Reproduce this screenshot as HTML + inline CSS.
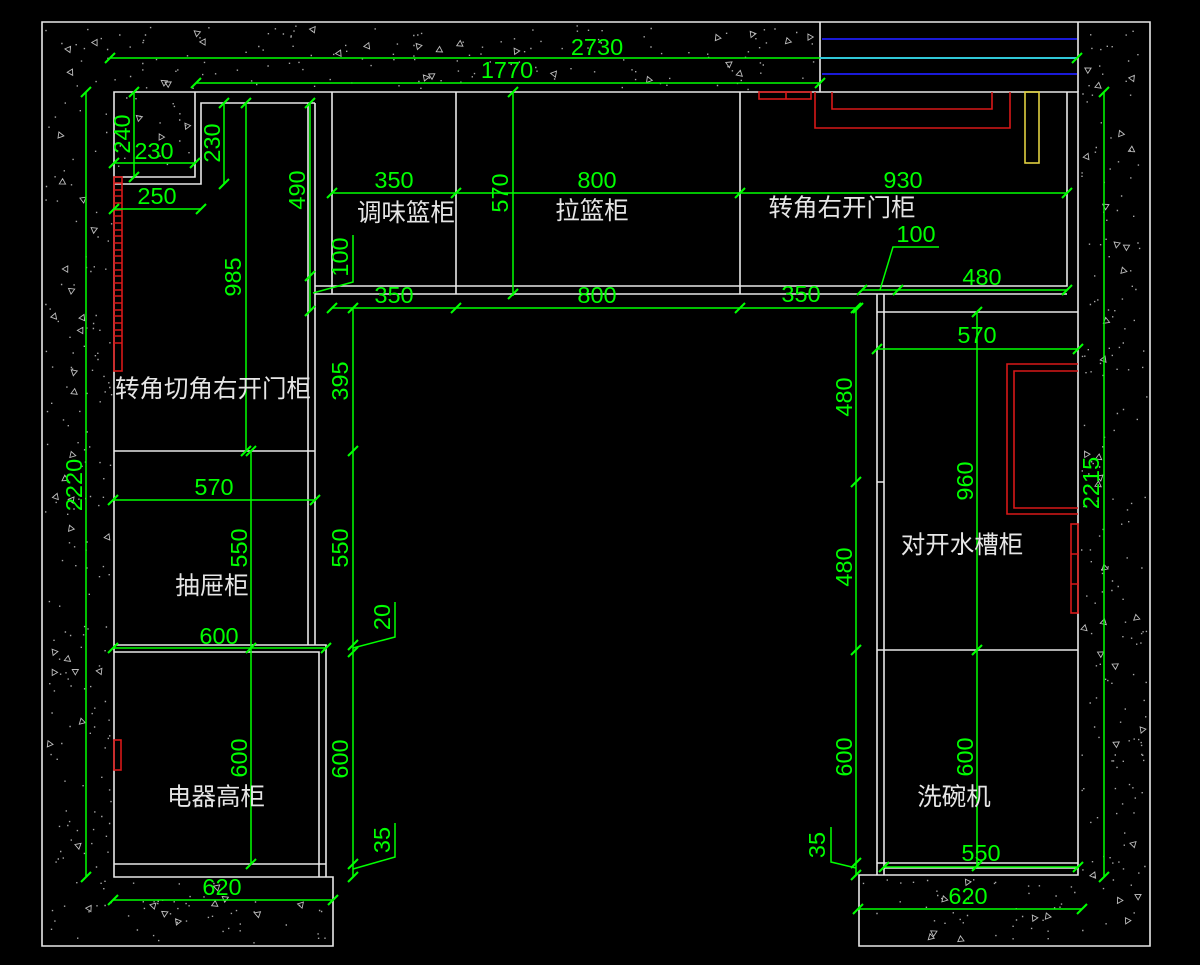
<!DOCTYPE html>
<html><head><meta charset="utf-8"><style>
html,body{margin:0;padding:0;background:#000;}
svg{display:block;}
.g{fill:#00ff00;font-family:"Liberation Sans",sans-serif;font-size:23.5px;text-anchor:middle;}
.w{fill:#e6e6e6;font-family:"Liberation Sans","Noto Sans CJK SC",sans-serif;font-size:24.5px;text-anchor:middle;}
</style></head><body>
<svg width="1200" height="965" viewBox="0 0 1200 965" xmlns="http://www.w3.org/2000/svg">
<defs><path id="t" d="M-5 5L5 -5" stroke="#00ff00" stroke-width="2"/></defs>
<rect width="1200" height="965" fill="#000"/>
<g id="hatch"></g>

<!-- window -->
<g fill="none" stroke-width="2">
<path d="M822 39H1077M822 74H1077" stroke="#1a1ad8"/>
</g>

<!-- walls & cabinets -->
<g fill="none" stroke="#e8e8e8" stroke-width="1.6">
<path d="M42 946V22H1150V946H859V875H1078V92H114V877H333V946Z"/>
<path d="M820 22V92M1078 22V92"/>
<path d="M114 177H195V92M114 184H201V103H315"/>
<path d="M308 103V645M315 103V645M114 451H315"/>
<path d="M315 286H1067V92M315 294H1067M332 92V294M456 92V294M740 92V294"/>
<path d="M877 294V875M884 294V875M877 312H1078M877 650H1078M877 863H1078M884 868H1078M877 482H884"/>
<path d="M114 645H326V877M114 652H319V877M114 864H326"/>
</g>

<!-- red / yellow fixtures -->
<g fill="none" stroke="#d81818" stroke-width="1.6">
<rect x="114" y="177" width="8" height="194"/>
<path d="M114 183H122M114 190H122M114 196H122M114 203H122M114 210H122M114 216H122M114 223H122M114 230H122M114 236H122M114 243H122M114 250H122M114 256H122M114 263H122M114 270H122M114 276H122M114 283H122M114 290H122M114 296H122M114 303H122M114 310H122M114 316H122M114 323H122M114 330H122M114 336H122M114 343H122"/>
<rect x="114" y="740" width="7" height="30"/>
<rect x="759" y="92" width="52" height="7"/>
<path d="M786 92V99"/>
<path d="M815 92V128H1010V92M832 92V109H992V92"/>
<path d="M1078 364H1007V514H1078M1078 371H1014V508H1078"/>
<rect x="1071" y="524" width="7" height="89"/>
<path d="M1071 554H1078M1071 584H1078"/>
</g>
<rect x="1025" y="92" width="14" height="71" fill="none" stroke="#e0d040" stroke-width="1.6"/>

<!-- green dimension lines -->
<g fill="none" stroke="#00ff00" stroke-width="1.5">
<path d="M110 58H1077M196 83H820M114 163H195M114 209H201M332 193H1067M332 308H858M862 290H1067M113 500H315M113 648H326M113 900H333M877 349H1078M884 867H1078M858 909H1082"/>
<path d="M86 92V877M134 92V177M224 103V184M310 103V311M246 103V451M513 92V296M353 308V877M251 451V864M856 308V875M977 312V867M1104 92V877"/>
<path d="M353 235V282L313 293M395 602V637L353 648M395 823V857L353 869M831 827V862L856 868M939 247H893L880 290"/>
</g>
<path d="M820 58H1077" stroke="#30c8d8" stroke-width="2"/>

<!-- ticks -->
<g>
<use href="#t" x="110" y="58"/><use href="#t" x="1077" y="58"/>
<use href="#t" x="196" y="83"/><use href="#t" x="820" y="83"/>
<use href="#t" x="114" y="163"/><use href="#t" x="195" y="163"/>
<use href="#t" x="114" y="209"/><use href="#t" x="201" y="209"/>
<use href="#t" x="332" y="193"/><use href="#t" x="456" y="193"/><use href="#t" x="740" y="193"/><use href="#t" x="1067" y="193"/>
<use href="#t" x="332" y="308"/><use href="#t" x="456" y="308"/><use href="#t" x="740" y="308"/><use href="#t" x="858" y="308"/>
<use href="#t" x="862" y="290"/><use href="#t" x="898" y="290"/><use href="#t" x="1067" y="290"/>
<use href="#t" x="113" y="500"/><use href="#t" x="315" y="500"/>
<use href="#t" x="113" y="648"/><use href="#t" x="326" y="648"/>
<use href="#t" x="113" y="900"/><use href="#t" x="333" y="900"/>
<use href="#t" x="877" y="349"/><use href="#t" x="1078" y="349"/>
<use href="#t" x="884" y="867"/><use href="#t" x="1078" y="867"/>
<use href="#t" x="858" y="909"/><use href="#t" x="1082" y="909"/>
<use href="#t" x="86" y="92"/><use href="#t" x="86" y="877"/>
<use href="#t" x="134" y="92"/><use href="#t" x="134" y="177"/>
<use href="#t" x="224" y="103"/><use href="#t" x="224" y="184"/>
<use href="#t" x="310" y="103"/><use href="#t" x="310" y="276"/><use href="#t" x="310" y="311"/>
<use href="#t" x="246" y="103"/><use href="#t" x="246" y="451"/>
<use href="#t" x="513" y="92"/><use href="#t" x="513" y="294"/>
<use href="#t" x="353" y="308"/><use href="#t" x="353" y="451"/><use href="#t" x="353" y="645"/><use href="#t" x="353" y="652"/><use href="#t" x="353" y="864"/><use href="#t" x="353" y="877"/>
<use href="#t" x="251" y="451"/><use href="#t" x="251" y="648"/><use href="#t" x="251" y="864"/>
<use href="#t" x="856" y="308"/><use href="#t" x="856" y="482"/><use href="#t" x="856" y="650"/><use href="#t" x="856" y="863"/><use href="#t" x="856" y="875"/>
<use href="#t" x="977" y="312"/><use href="#t" x="977" y="650"/><use href="#t" x="977" y="866"/>
<use href="#t" x="1104" y="92"/><use href="#t" x="1104" y="877"/>
</g>

<!-- green dimension text -->
<g class="g">
<text x="597" y="55">2730</text>
<text x="507" y="78">1770</text>
<text transform="translate(130,134) rotate(-90)">240</text>
<text x="154" y="159">230</text>
<text transform="translate(220,143) rotate(-90)">230</text>
<text x="157" y="204">250</text>
<text transform="translate(305,190) rotate(-90)">490</text>
<text transform="translate(241,277) rotate(-90)">985</text>
<text transform="translate(348,257) rotate(-90)">100</text>
<text x="394" y="188">350</text>
<text x="597" y="188">800</text>
<text x="903" y="188">930</text>
<text transform="translate(508,193) rotate(-90)">570</text>
<text x="916" y="242">100</text>
<text x="982" y="285">480</text>
<text x="394" y="303">350</text>
<text x="597" y="303">800</text>
<text x="801" y="302">350</text>
<text transform="translate(82,485) rotate(-90)">2220</text>
<text transform="translate(348,381) rotate(-90)">395</text>
<text transform="translate(348,548) rotate(-90)">550</text>
<text transform="translate(390,617) rotate(-90)">20</text>
<text transform="translate(348,759) rotate(-90)">600</text>
<text transform="translate(390,840) rotate(-90)">35</text>
<text x="214" y="495">570</text>
<text transform="translate(247,548) rotate(-90)">550</text>
<text x="219" y="644">600</text>
<text transform="translate(247,758) rotate(-90)">600</text>
<text x="222" y="895">620</text>
<text transform="translate(852,397) rotate(-90)">480</text>
<text transform="translate(852,567) rotate(-90)">480</text>
<text transform="translate(852,757) rotate(-90)">600</text>
<text transform="translate(825,845) rotate(-90)">35</text>
<text x="977" y="343">570</text>
<text transform="translate(973,481) rotate(-90)">960</text>
<text transform="translate(973,757) rotate(-90)">600</text>
<text transform="translate(1099,483) rotate(-90)">2215</text>
<text x="981" y="861">550</text>
<text x="968" y="904">620</text>
</g>

<!-- cabinet labels -->
<g class="w">
<text x="406" y="221">调味篮柜</text>
<text x="592" y="219">拉篮柜</text>
<text x="842" y="216">转角右开门柜</text>
<text x="213" y="397">转角切角右开门柜</text>
<text x="212" y="594">抽屉柜</text>
<text x="216" y="805">电器高柜</text>
<text x="962" y="553">对开水槽柜</text>
<text x="954" y="805">洗碗机</text>
</g>
</svg>
<script>
(function(){
var s=987654321;
function r(){s=(Math.imul(s,1664525)+1013904223)>>>0;return s/4294967296;}
var regs=[[42,22,778,70],[42,92,72,785],[114,92,81,85],[42,877,291,69],[1078,22,72,924],[859,875,219,71]];
var d='',t='';
regs.forEach(function(R){
  var a=R[2]*R[3];var n=Math.round(a/380),m=Math.round(a/2300);
  for(var i=0;i<n;i++){var x=R[0]+3+r()*(R[2]-6),y=R[1]+3+r()*(R[3]-6);
    d+='M'+x.toFixed(1)+' '+y.toFixed(1)+'h1.4v1.4h-1.4z';}
  for(var j=0;j<m;j++){var x=R[0]+6+r()*(R[2]-12),y=R[1]+6+r()*(R[3]-12),a2=r()*6.283,k=3.6;
    var p=[];for(var q=0;q<3;q++){var ang=a2+q*2.094;p.push((x+k*Math.cos(ang)).toFixed(1)+' '+(y+k*Math.sin(ang)).toFixed(1));}
    t+='M'+p[0]+'L'+p[1]+'L'+p[2]+'Z';}
});
var ns='http://www.w3.org/2000/svg';var g=document.getElementById('hatch');
var p1=document.createElementNS(ns,'path');p1.setAttribute('d',d);p1.setAttribute('fill','#a8a8a8');g.appendChild(p1);
var p2=document.createElementNS(ns,'path');p2.setAttribute('d',t);p2.setAttribute('fill','none');p2.setAttribute('stroke','#bdbdbd');p2.setAttribute('stroke-width','0.9');g.appendChild(p2);
})();
</script>
</body></html>
